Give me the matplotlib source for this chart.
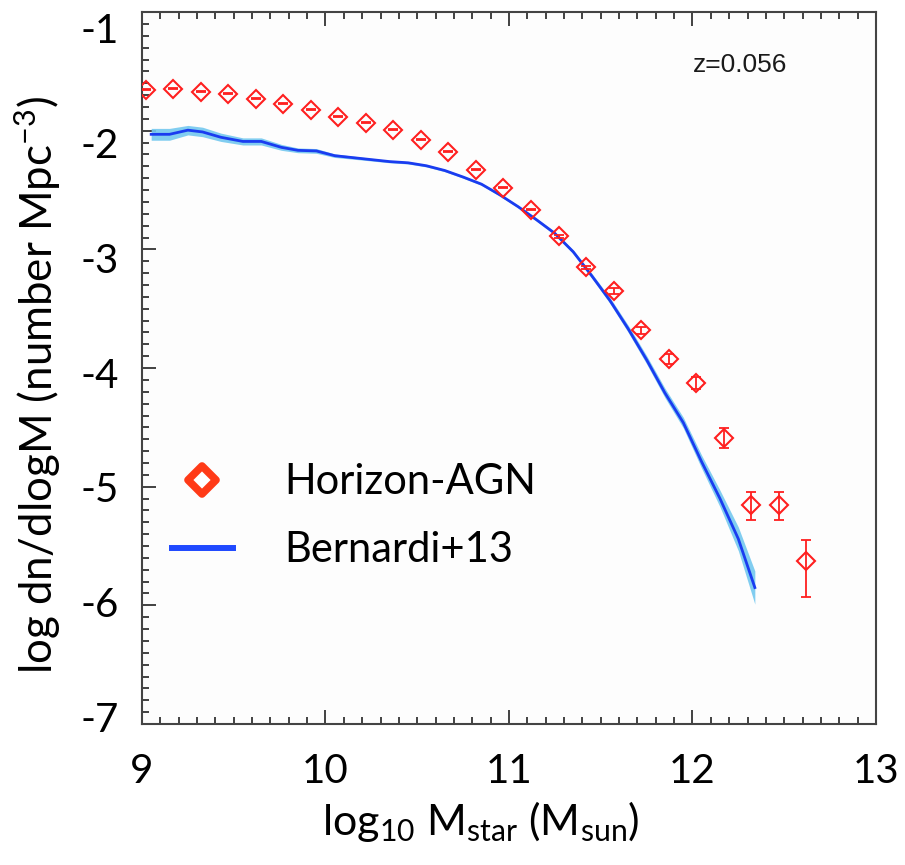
import matplotlib
matplotlib.use("Agg")
import matplotlib.pyplot as plt
from matplotlib.lines import Line2D
from matplotlib.markers import MarkerStyle
from matplotlib.ticker import MultipleLocator
import numpy as np

plt.rcParams['font.family'] = ['Lato', 'DejaVu Sans']
plt.rcParams['axes.unicode_minus'] = False
plt.rcParams['mathtext.fontset'] = 'custom'
plt.rcParams['mathtext.rm'] = 'Lato'
plt.rcParams['mathtext.it'] = 'Lato:italic'
plt.rcParams['mathtext.default'] = 'regular'

# ---- data ----
hagn_x = [9.02, 9.17, 9.32, 9.47, 9.62, 9.77, 9.92, 10.07, 10.22, 10.37,
          10.52, 10.67, 10.82, 10.97, 11.12, 11.27, 11.42, 11.57, 11.72, 11.87,
          12.02, 12.17, 12.32, 12.47, 12.62]
hagn_y = [-1.655, -1.647, -1.672, -1.689, -1.731, -1.773, -1.824, -1.882, -1.933, -1.992,
          -2.076, -2.176, -2.328, -2.479, -2.664, -2.891, -3.151, -3.353, -3.681, -3.924,
          -4.126, -4.588, -5.151, -5.151, -5.630]
hagn_err_lo = [0.005, 0.005, 0.005, 0.005, 0.005, 0.005, 0.005, 0.005, 0.005, 0.005,
               0.005, 0.006, 0.006, 0.007, 0.008, 0.010, 0.015, 0.025, 0.030, 0.040,
               0.050, 0.085, 0.130, 0.130, 0.300]
hagn_err_hi = [0.005, 0.005, 0.005, 0.005, 0.005, 0.005, 0.005, 0.005, 0.005, 0.005,
               0.005, 0.006, 0.006, 0.007, 0.008, 0.010, 0.015, 0.025, 0.030, 0.040,
               0.050, 0.085, 0.110, 0.110, 0.180]

bern_x = [9.05, 9.15, 9.25, 9.33, 9.43, 9.55, 9.65, 9.76, 9.85, 9.95,
          10.05, 10.20, 10.35, 10.45, 10.55, 10.65, 10.75, 10.85, 10.95, 11.05,
          11.15, 11.25, 11.35, 11.45, 11.55, 11.65, 11.75, 11.85, 11.95, 12.05,
          12.15, 12.25, 12.34]
bern_y = [-2.03, -2.03, -1.995, -2.01, -2.055, -2.09, -2.09, -2.14, -2.165, -2.17,
          -2.21, -2.235, -2.26, -2.27, -2.295, -2.335, -2.39, -2.45, -2.54, -2.64,
          -2.75, -2.865, -3.02, -3.22, -3.43, -3.67, -3.93, -4.21, -4.46, -4.79,
          -5.10, -5.44, -5.85]
bern_err = [0.05, 0.05, 0.04, 0.04, 0.035, 0.03, 0.03, 0.025, 0.02, 0.02,
            0.015, 0.012, 0.01, 0.01, 0.01, 0.01, 0.01, 0.01, 0.01, 0.01,
            0.012, 0.014, 0.016, 0.02, 0.025, 0.03, 0.035, 0.04, 0.045, 0.055,
            0.07, 0.10, 0.14]

xticks = [9, 10, 11, 12, 13]
yticks = [-7, -6, -5, -4, -3, -2, -1]

label_hagn = 'Horizon-AGN'
label_bern = 'Bernardi+13'
z_text = 'z=0.056'

# ---- figure ----
fig = plt.figure(figsize=(9.05, 8.65), dpi=100)
ax = fig.add_axes([0.1569, 0.163, 0.811, 0.823])
ax.set_facecolor('#fdfdfd')

bx = np.array(bern_x)
by = np.array(bern_y)
be = np.array(bern_err)
ax.fill_between(bx, by - be, by + be, color='#74c8ef', alpha=0.9, lw=0, zorder=2)
ax.plot(bx, by, color='#1a3cf0', lw=2.0, zorder=3)

ax.errorbar(hagn_x, hagn_y, yerr=[hagn_err_lo, hagn_err_hi], fmt='none',
            ecolor='#ff1f1f', elinewidth=1.3, capsize=3.3, capthick=1.3, zorder=4)
ax.plot(hagn_x, hagn_y, ls='none', marker='D', ms=9.2, mfc='none',
        mec='#ff1f1f', mew=1.5, zorder=5)

ax.set_xlim(9, 13)
ax.set_ylim(-7, -1)
ax.set_xticks(xticks)
ax.set_yticks(yticks)
ax.set_xticklabels([str(t) for t in xticks])
ax.set_yticklabels([])
ax.xaxis.set_minor_locator(MultipleLocator(0.1))
ax.yaxis.set_minor_locator(MultipleLocator(0.1))
ax.tick_params(which='both', direction='in', top=True, right=True,
               color='#333333', width=1.3)
ax.tick_params(which='major', length=10)
ax.tick_params(which='minor', length=5)
ax.tick_params(axis='x', which='major', labelsize=29, pad=21)
for s in ax.spines.values():
    s.set_color('#444444')
    s.set_linewidth(1.5)

# tick labels of the y axis (placed as in the reference, slightly compressed)
axl = ax.twinx()
axl.set_ylim(-7.061, -0.861)
axl.yaxis.tick_left()
axl.set_yticks(yticks)
axl.set_yticklabels([str(t) for t in yticks])
axl.tick_params(axis='y', length=0, labelsize=29, pad=17)
axl.patch.set_visible(False)
for s in axl.spines.values():
    s.set_visible(False)

ax.set_ylabel(r'log dn/dlogM (number Mpc$^{\mathrm{-3}}$)', fontsize=31.5)
ax.yaxis.set_label_coords(-0.108, 0.476)
ax.set_xlabel(r'log$_{10}$ M$_{\mathrm{star}}$ (M$_{\mathrm{sun}}$)', fontsize=31)
ax.xaxis.set_label_coords(0.462, -0.106)

ax.text(0.815, 0.9256, z_text, transform=ax.transAxes, ha='center', va='center',
        fontsize=19, family=['Liberation Sans', 'DejaVu Sans'], color='#1a1a1a')

h1 = Line2D([], [], ls='none', marker=MarkerStyle('D', joinstyle='round'),
            ms=14, mfc='white', mec='#ff3a17', mew=5.5)
h2 = Line2D([], [], color='#1f49ff', lw=4.3)
ax.legend([h1, h2], [label_hagn, label_bern], loc='center left',
          bbox_to_anchor=(0.041, 0.292), frameon=False, fontsize=30,
          borderpad=0, borderaxespad=0, handlelength=1.45, handletextpad=1.25,
          labelspacing=0.72)

fig.savefig('out.png', dpi=100)
